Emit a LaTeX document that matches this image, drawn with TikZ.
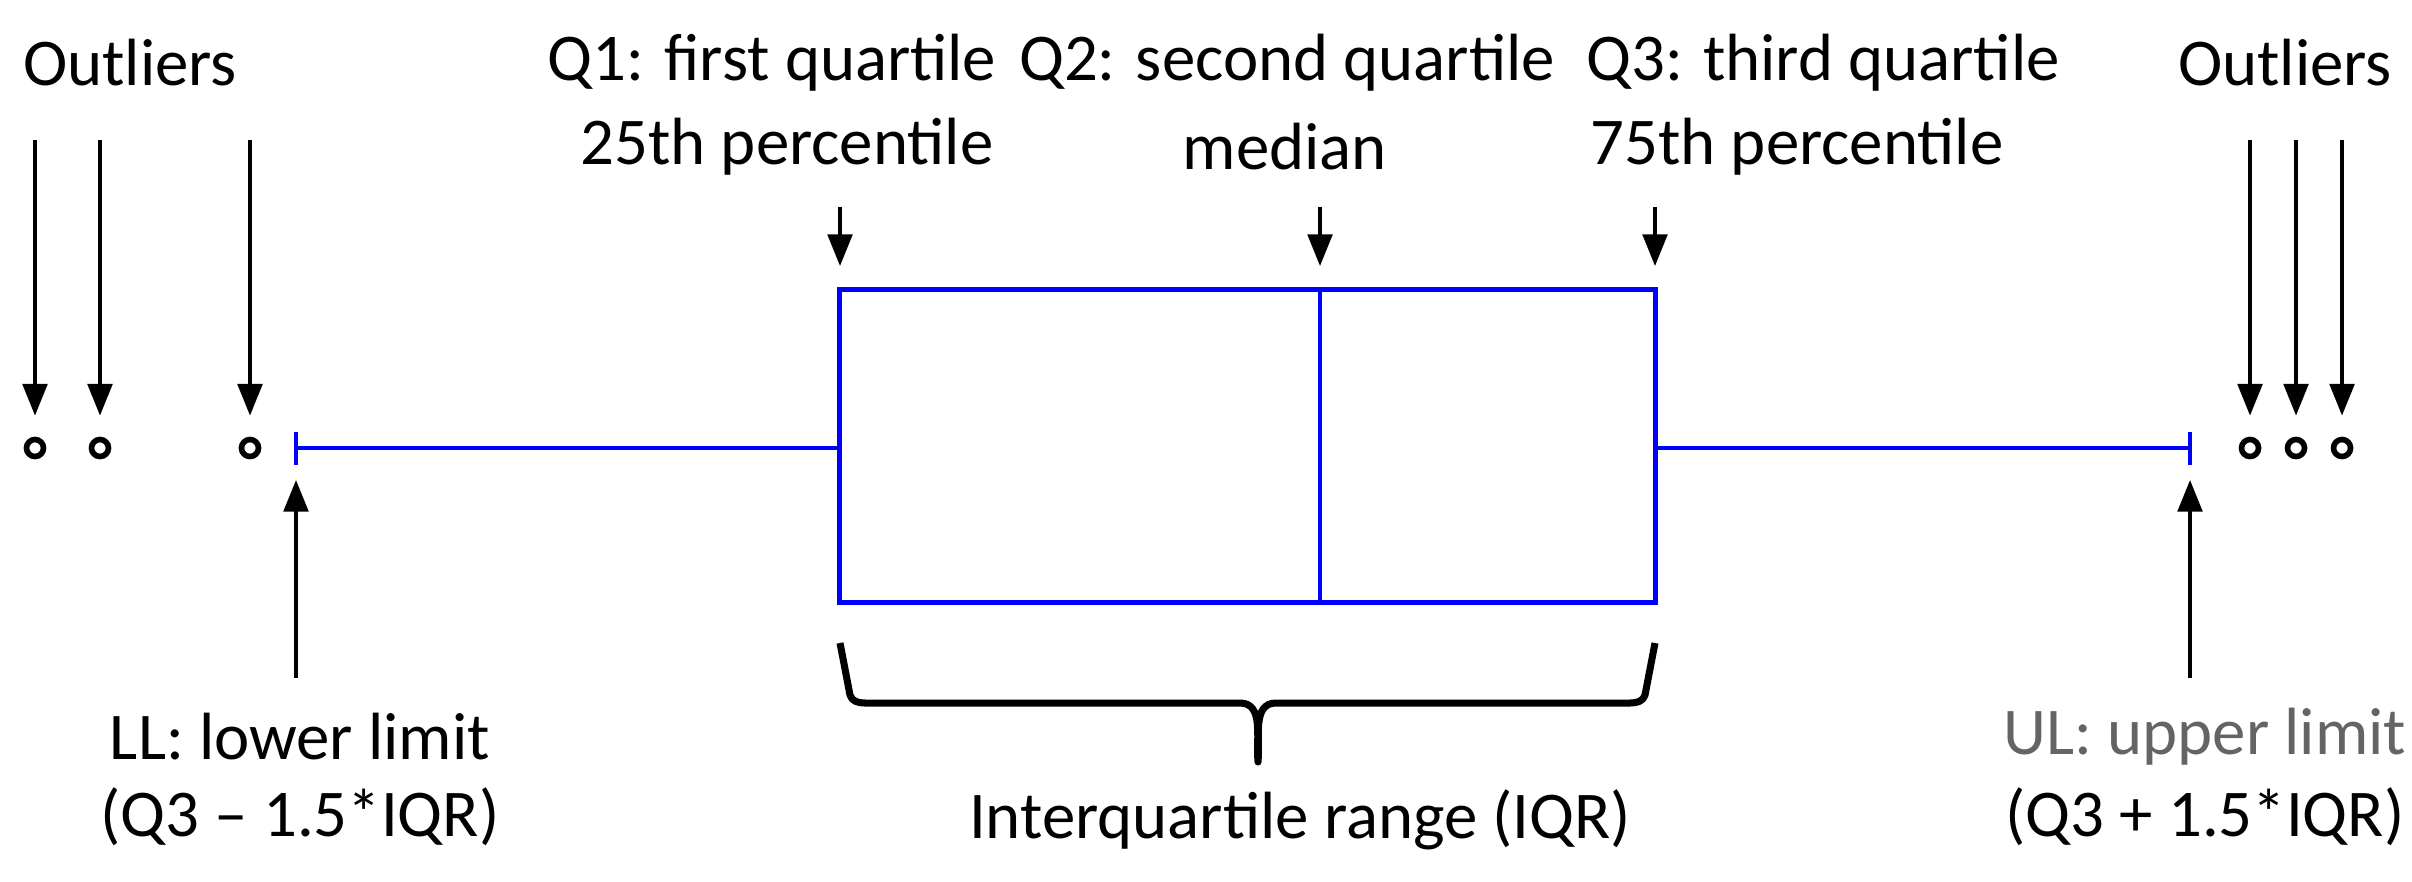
\documentclass[tikz,border=0pt]{standalone}
\usepackage{fontspec}
\setmainfont{Carlito}
\usetikzlibrary{arrows.meta}
\definecolor{bblue}{RGB}{0,0,255}
\definecolor{ggray}{RGB}{100,100,100}
\begin{document}
\begin{tikzpicture}[x=0.01cm,y=-0.01cm,
  lbl/.style={font=\fontsize{19}{22}\selectfont,inner sep=0pt,anchor=center},
  arr/.style={-{Triangle[length=9pt,width=7pt]},line width=1pt},
  bx/.style={bblue,line width=1.4pt},
  outl/.style={circle,draw,line width=1.6pt,minimum size=0.17cm,inner sep=0pt}]
\useasboundingbox (0,0) rectangle (2412,881);
% box
\node[draw=bblue,line width=1.4pt,minimum width=8.15cm,minimum height=3.12cm,inner sep=0pt] (box) at (1247.5,446) {};
\draw[bx] (1320,290) -- (1320,602);
\coordinate (lw) at (296,448);
\coordinate (uw) at (2190,448);
\draw[bx] (box.west |- lw) -- (lw);
\draw[bx] (box.east |- uw) -- (uw);
\draw[bx] (296,432) -- (296,465);
\draw[bx] (2190,432) -- (2190,465);
% outliers
\node[outl] (o1) at (35,448) {};
\node[outl] (o2) at (100,448) {};
\node[outl] (o3) at (250,448) {};
\node[outl] (o4) at (2250,448) {};
\node[outl] (o5) at (2296,448) {};
\node[outl] (o6) at (2342,448) {};
\node[lbl] (tol) at (130,63) {Outliers};
\node[lbl] (tor) at (2285,63) {Outliers};
\foreach \n/\x in {o1/35,o2/100,o3/250,o4/2250,o5/2296,o6/2342}{
  \coordinate (s\n) at (\x,140);
  \draw[arr] (s\n) -- ([yshift=6pt]\n.north);
}
% quartile labels
\node[lbl] (q1a) at (772,63) {Q1: first quartile};
\node[lbl] (q1b) at (787,147) {25th percentile};
\node[lbl] (q2a) at (1287,63) {Q2: second quartile};
\node[lbl] (q2b) at (1285,147) {median};
\node[lbl] (q3a) at (1823,63) {Q3: third quartile};
\node[lbl] (q3b) at (1797,147) {75th percentile};
\coordinate (a1) at (840,207); \coordinate (b1) at (840,266);
\coordinate (a2) at (1320,207); \coordinate (b2) at (1320,266);
\coordinate (a3) at (1655,207); \coordinate (b3) at (1655,266);
\draw[arr] (a1) -- (b1);
\draw[arr] (a2) -- (b2);
\draw[arr] (a3) -- (b3);
% limits
\coordinate (ll0) at (296,678); \coordinate (ll1) at (296,480);
\coordinate (ul0) at (2190,678); \coordinate (ul1) at (2190,480);
\draw[arr] (ll0) -- (ll1);
\draw[arr] (ul0) -- (ul1);
\node[lbl] (lla) at (300,737) {LL: lower limit};
\node[lbl] (llb) at (300,817) {(Q3 – 1.5*IQR)};
\node[lbl,text=ggray] (ula) at (2205,737) {UL: upper limit};
\node[lbl] (ulb) at (2205,817) {(Q3 + 1.5*IQR)};
% brace
\draw[line width=2pt,line join=round] (840,643) -- (850,695) to[out=-75,in=180] (865,703) -- (1240,703)
  to[out=0,in=95] (1258,762) to[out=85,in=180] (1276,703) -- (1630,703) to[out=0,in=-105] (1645,695) -- (1655,643);
\node[lbl] (iqr) at (1300,820) {Interquartile range (IQR)};
\end{tikzpicture}
\end{document}
